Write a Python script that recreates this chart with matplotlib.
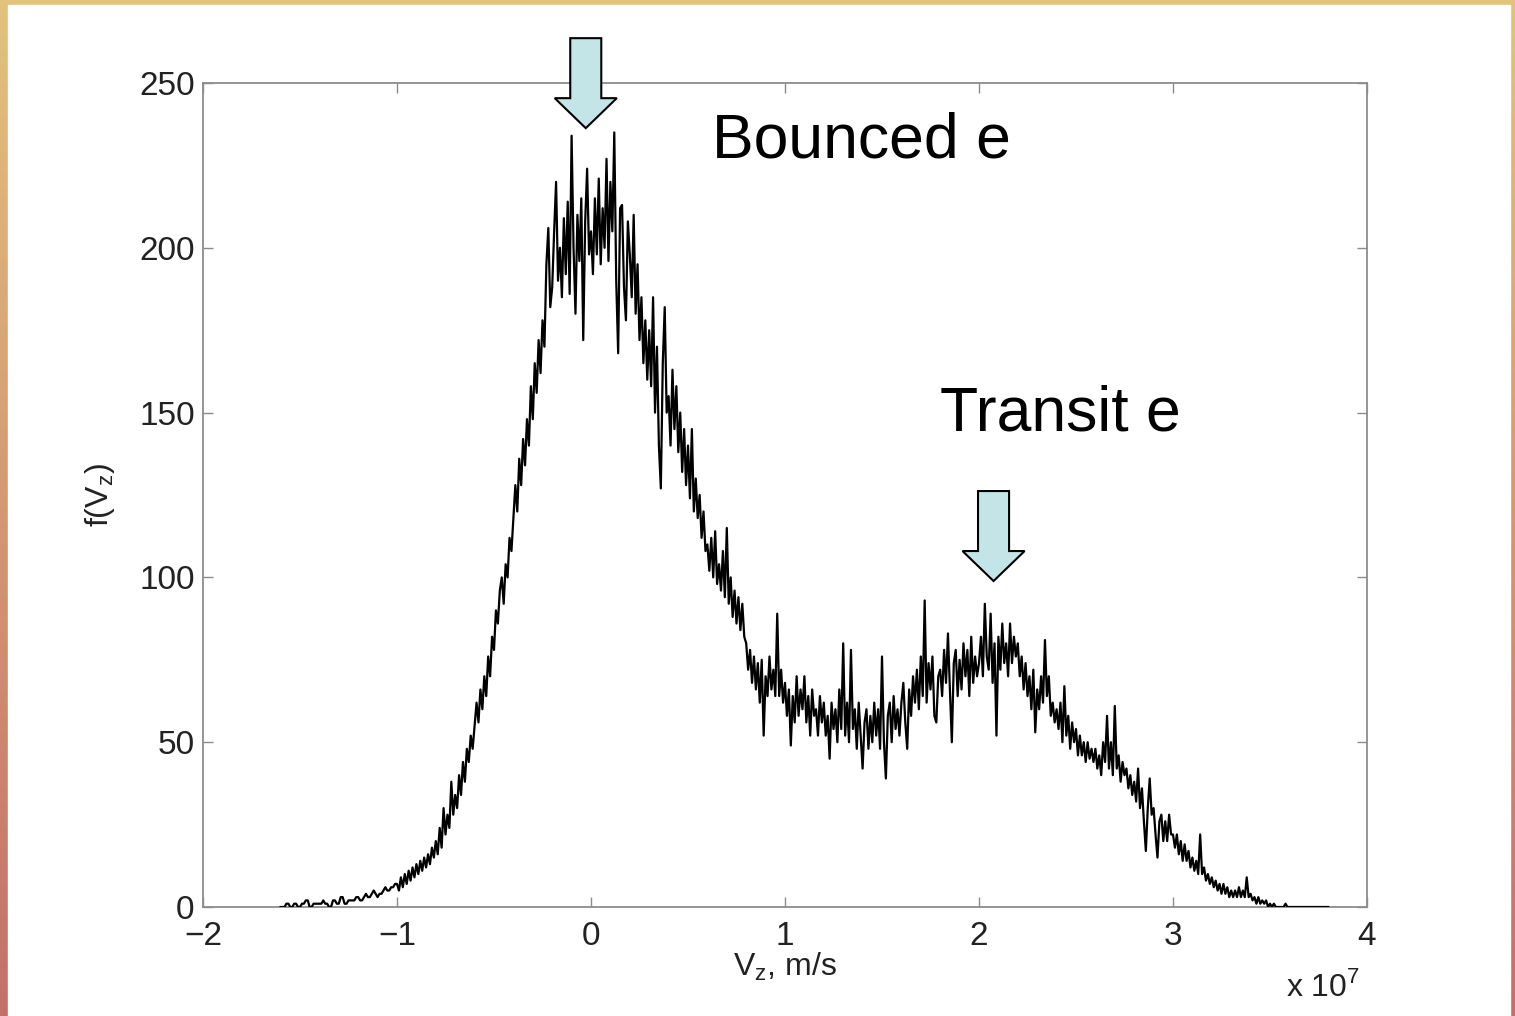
import numpy as np
import matplotlib
matplotlib.use('Agg')
import matplotlib.pyplot as plt
from matplotlib.patches import Polygon, Rectangle
from matplotlib.colors import to_rgb

plt.rcParams['font.family'] = ['Liberation Sans', 'DejaVu Sans']
plt.rcParams['axes.unicode_minus'] = True

# ---------------- data (V_z in units of 1e7 m/s, bin step 0.01) ----------------
v_start = -1.60
v_step = 0.01
f_vals = [
    0, 0, 0, 1, 1, 0, 0, 1, 1, 0, 0, 1, 1, 2, 2, 0, 0, 1, 1, 1,                  # -1.60
    1, 1, 2, 1, 1, 0, 0, 2, 2, 1, 1, 3, 3, 1, 1, 2, 2, 2, 2, 3,                  # -1.40
    3, 2, 2, 3, 4, 3, 3, 4, 5, 4, 3, 4, 4, 5, 6, 5, 5, 6, 6, 7,                  # -1.20
    7, 5, 9, 6, 10, 7, 11, 8, 12, 9, 13, 10, 14, 11, 15, 12, 16, 13, 18, 15,     # -1.00
    20, 16, 24, 18, 30, 22, 28, 24, 38, 28, 34, 30, 40, 34, 44, 38, 48, 44, 52, 48,  # -0.80
    55, 62, 56, 66, 60, 70, 64, 76, 70, 82, 78, 90, 86, 96, 100, 92, 104, 100, 112, 108,  # -0.60
    118, 128, 120, 136, 128, 142, 134, 148, 140, 158, 148, 165, 156, 172, 162, 178, 170, 195, 206, 182,  # -0.40
    188, 205, 220, 190, 200, 185, 209, 192, 214, 186, 234, 200, 180, 210, 196, 215, 172, 208, 224, 198,  # -0.20
    205, 192, 215, 198, 221, 195, 212, 200, 227, 196, 220, 205, 235, 190, 168, 212, 213, 188, 178, 208,  # 0.00
    198, 185, 210, 180, 195, 172, 185, 165, 178, 160, 175, 158, 185, 150, 170, 140, 127, 165, 182, 150,  # 0.20
    155, 140, 163, 145, 158, 138, 150, 132, 145, 128, 140, 124, 145, 120, 130, 118, 125, 112, 120, 108,  # 0.40
    110, 102, 112, 100, 114, 98, 104, 96, 108, 94, 115, 92, 100, 88, 96, 86, 94, 84, 92, 82,   # 0.60
    80, 72, 78, 68, 76, 66, 74, 62, 75, 52, 70, 64, 76, 66, 72, 64, 89, 64, 72, 62,            # 0.80
    68, 58, 66, 49, 64, 56, 70, 58, 66, 60, 70, 56, 64, 52, 66, 58, 60, 52, 64, 56,            # 1.00
    62, 52, 58, 45, 62, 54, 60, 50, 66, 54, 80, 52, 62, 50, 78, 54, 60, 48, 62, 52,            # 1.20
    42, 56, 60, 48, 58, 50, 62, 52, 60, 48, 76, 50, 39, 58, 62, 50, 64, 54, 60, 52,            # 1.40
    62, 68, 56, 48, 66, 58, 70, 62, 72, 60, 76, 64, 93, 62, 74, 66, 76, 58, 56, 70,            # 1.60
    72, 64, 78, 68, 83, 66, 50, 74, 78, 64, 75, 66, 80, 70, 78, 64, 82, 68, 76, 70,            # 1.80
    74, 82, 70, 92, 76, 72, 89, 68, 80, 52, 82, 72, 86, 74, 80, 70, 86, 74, 82, 76,            # 2.00
    80, 70, 76, 66, 74, 64, 70, 60, 72, 53, 66, 60, 70, 62, 81, 64, 70, 58, 62, 56,            # 2.20
    60, 54, 62, 50, 67, 52, 58, 48, 56, 50, 54, 46, 52, 46, 50, 44, 50, 45, 48, 44,            # 2.40
    48, 42, 46, 40, 50, 44, 58, 42, 50, 40, 61, 42, 46, 38, 44, 40, 42, 36, 40, 34,            # 2.60
    38, 32, 42, 30, 36, 26, 17, 30, 39, 28, 30, 22, 15, 26, 28, 20, 26, 20, 28, 22,            # 2.80
    22, 18, 22, 16, 20, 14, 19, 14, 17, 12, 15, 11, 14, 10, 22, 10, 12, 8, 10, 7,              # 3.00
    9, 6, 8, 5, 7, 4, 7, 4, 6, 3, 5, 3, 5, 3, 6, 3, 5, 3, 9, 3,                                # 3.20
    4, 2, 3, 1, 3, 1, 2, 1, 2, 0, 1, 0, 1, 0, 0, 0, 0, 0, 1, 0,                                # 3.40
    0, 0, 0, 0, 0, 0, 0, 0, 0, 0, 0, 0, 0, 0, 0, 0, 0, 0, 0, 0, 0,                             # 3.60
]
v_vals = v_start + v_step * np.arange(len(f_vals))

x_ticks = [-2, -1, 0, 1, 2, 3, 4]
y_ticks = [0, 50, 100, 150, 200, 250]

labels = ["Bounced e", "Transit e"]
label_pos = [(0.624, 227.5), (1.80, 144.7)]
# arrows: (centre x, tip y, top y)
arrows = [(-0.027, 236.3, 263.6), (2.075, 98.9, 126.2)]
shaft_half = 0.08
head_half = 0.16
head_len = 9.1

# ---------------- figure ----------------
W, H = 1515, 1016
fig = plt.figure(figsize=(W / 100, H / 100), dpi=100)

bg = fig.add_axes([0, 0, 1, 1])
bg.set_axis_off()
c_top = np.array(to_rgb('#e3c27c'))
c_bot = np.array(to_rgb('#c4706a'))
t = np.linspace(0, 1, 200)[:, None, None]
grad = c_top * (1 - t) + c_bot * t
grad = np.repeat(grad, 4, axis=1)
bg.imshow(grad, aspect='auto', extent=[0, 1, 0, 1], origin='upper')
bg.add_patch(Rectangle((8 / W, 0), (1510 - 8) / W, (H - 5) / H,
                       transform=bg.transAxes, color='white', zorder=2))
bg.set_xlim(0, 1)
bg.set_ylim(0, 1)

ax = fig.add_axes([203 / W, (H - 907) / H, (1367 - 203) / W, (907 - 83) / H])
ax.patch.set_alpha(0)
ax.plot(v_vals, f_vals, color='black', lw=1.6, zorder=3)

ax.set_xlim(-2, 4)
ax.set_ylim(0, 250)
ax.set_xticks(x_ticks)
ax.set_yticks(y_ticks)
for s in ax.spines.values():
    s.set_color('#8c8c8c')
    s.set_linewidth(1.3)
ax.tick_params(direction='in', length=7, width=1.0, color='#8c8c8c',
               top=True, right=True, labelsize=24, labelcolor='#222222')
ax.tick_params(axis='x', pad=10)
ax.tick_params(axis='y', pad=6)

ax.text(0.5, -0.073, r'$\mathregular{V_z}$, m/s', transform=ax.transAxes,
        ha='center', va='center', fontsize=23, color='#222222')
ax.text(-0.0885, 0.5, r'f($\mathregular{V_z}$)', transform=ax.transAxes,
        ha='center', va='center', rotation=90, fontsize=23, color='#222222')
ax.text(0.962, -0.097, r'x 10$^{\mathregular{7}}$', transform=ax.transAxes,
        ha='center', va='center', fontsize=23, color='#222222')

for (lx, ly), lab in zip(label_pos, labels):
    ax.text(lx, ly, lab, ha='left', va='baseline', fontsize=45, color='black',
            zorder=6)

for cx, tip, top in arrows:
    base = tip + head_len
    pts = [(cx - shaft_half, top), (cx + shaft_half, top), (cx + shaft_half, base),
           (cx + head_half, base), (cx, tip), (cx - head_half, base),
           (cx - shaft_half, base)]
    ax.add_patch(Polygon(pts, closed=True, facecolor='#c4e5e7', edgecolor='black',
                         lw=1.5, clip_on=False, zorder=6))

fig.savefig('out.png', dpi=100)
